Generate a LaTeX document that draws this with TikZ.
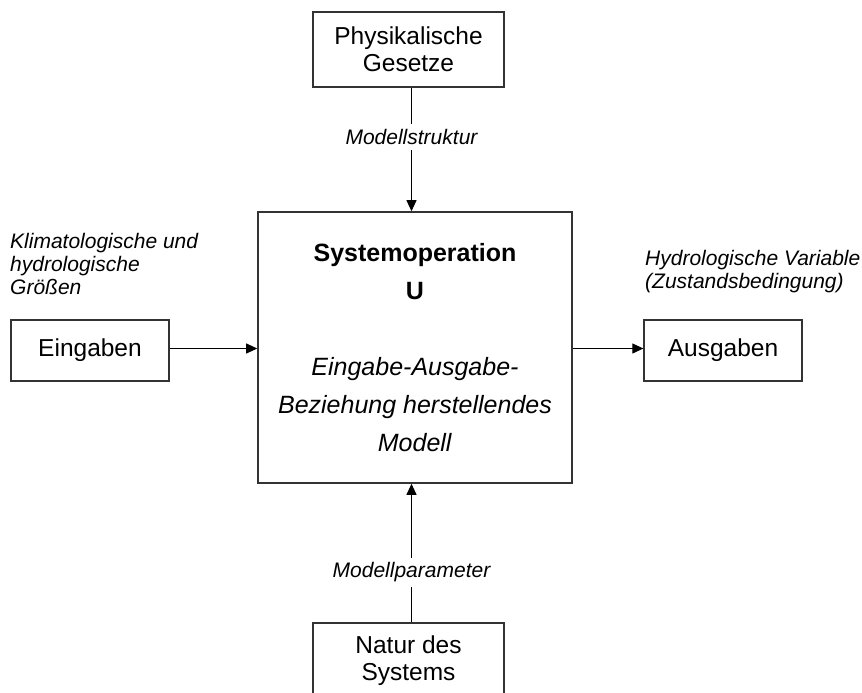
\documentclass[tikz,border=0pt]{standalone}
\usepackage{fontspec}
\setmainfont{Liberation Sans}
\usetikzlibrary{arrows.meta}

\tikzset{
  kasten/.style = {rectangle, draw=black!80, line width=1.3pt, align=center, inner sep=0pt,
                   font=\fontsize{24.5}{27}\selectfont},
  pfeil/.style  = {-{Triangle[length=11pt,width=10pt]}, line width=1pt},
  beschr/.style = {inner sep=0pt, align=left, font=\fontsize{21}{23}\selectfont\itshape},
  mitte/.style  = {fill=white, inner sep=5pt, font=\fontsize{21}{23}\selectfont\itshape}
}

\begin{document}
\begin{tikzpicture}[x=1pt, y=-1pt]
        \clip (0,0) rectangle (862,693);

        \node[kasten, minimum width=191pt, minimum height=75pt] (phys) at (408.5,49.5) {Physikalische\\Gesetze};
        \node[kasten, minimum width=314pt, minimum height=271pt, line width=1.6pt,
              font=\fontsize{25}{38}\selectfont] (sys) at (415,347.5)
              {\textbf{Systemoperation}\\\textbf{U}\\[38pt]\textit{Eingabe-Ausgabe-}\\\textit{Beziehung herstellendes}\\\textit{Modell}};
        \node[kasten, minimum width=158pt, minimum height=61pt] (ein) at (90,350.5) {Eingaben};
        \node[kasten, minimum width=158pt, minimum height=61pt] (aus) at (723,350.5) {Ausgaben};
        \node[kasten, minimum width=191pt, minimum height=76pt] (natur) at (408.5,661) {Natur des\\Systems};

        \node[beschr, anchor=west] (klima) at (10,264) {Klimatologische und\\hydrologische\\Größen};
        \node[beschr, anchor=west] (hydro) at (645,272) {Hydrologische Variable\\(Zustandsbedingung)};

        \coordinate (oben)  at ([xshift=3pt]phys.south);
        \coordinate (unten) at ([xshift=3pt]natur.north);
        \coordinate (links) at ([yshift=2pt]ein.east);
        \coordinate (rechts) at ([yshift=2pt]aus.west);

        \draw[pfeil] (oben) -- node[mitte, pos=0.4] (struktur) {Modellstruktur} (oben |- sys.north);
        \draw[pfeil] (unten) -- node[mitte, pos=0.36] (param) {Modellparameter} (unten |- sys.south);
        \draw[pfeil] (links) -- (links -| sys.west);
        \draw[pfeil] (rechts -| sys.east) -- (rechts);
\end{tikzpicture}
\end{document}
